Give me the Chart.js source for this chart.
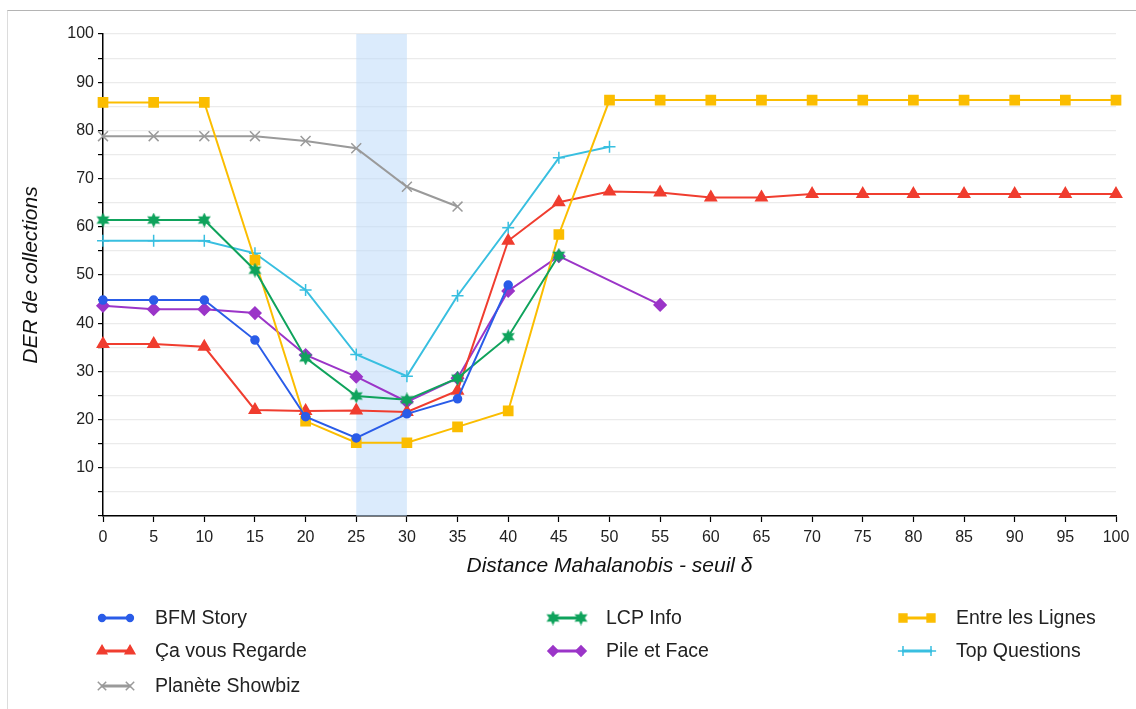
<!DOCTYPE html>
<html>
<head>
<meta charset="utf-8">
<script src="https://cdn.jsdelivr.net/npm/chart.js@4.4.0/dist/chart.umd.min.js"></script>
<style>
  html, body { margin: 0; padding: 0; background: #fff; }
  #wrap { position: relative; width: 1136px; height: 709px; overflow: hidden; }
  #frame { position: absolute; left: 7px; top: 10px; width: 1200px; height: 800px; border-top: 1px solid #b4b4b4; border-left: 1px solid #dcdcdc; }
  #chart { position: absolute; left: 0; top: 0; }
</style>
</head>
<body>
<div id="wrap">
  <div id="frame"></div>
  <canvas id="chart" width="1136" height="709"></canvas>
</div>
<script>
//****DATA****//

var thresholds = [0, 5, 10, 15, 20, 25, 30, 35, 40, 45, 50, 55, 60, 65, 70, 75, 80, 85, 90, 95, 100];

var bfmStory = [44.8, 44.8, 44.8, 36.5, 20.6, 16.2, 21.2, 24.3, 47.9];
var caVousRegarde = [35.7, 35.7, 35.1, 22.0, 21.8, 21.9, 21.6, 26.0, 57.1, 65.1, 67.3, 67.1, 66.1, 66.1, 66.8, 66.8, 66.8, 66.8, 66.8, 66.8, 66.8];
var planeteShowbiz = [78.8, 78.8, 78.8, 78.8, 77.8, 76.3, 68.3, 64.2];
var lcpInfo = [61.4, 61.4, 61.4, 51.0, 32.8, 24.9, 24.1, 28.6, 37.2, 54.1];
var pileEtFace = [43.6, 42.9, 42.9, 42.1, 33.4, 28.9, 23.7, 28.6, 46.7, 53.9, null, 43.8];
var entreLesLignes = [85.8, 85.8, 85.8, 53.1, 19.7, 15.2, 15.2, 18.5, 21.8, 58.4, 86.3, 86.3, 86.3, 86.3, 86.3, 86.3, 86.3, 86.3, 86.3, 86.3, 86.3];
var topQuestions = [57.1, 57.1, 57.1, 54.5, 46.9, 33.5, 29.0, 45.7, 59.8, 74.3, 76.6];

var bandFrom = 25;
var bandTo = 30;

//****HELPERS****//

var FONT = '"Liberation Sans", Arial, Helvetica, sans-serif';

// filled six point star, the built-in 'star' is only an asterisk
function makeStar(color, size) {
  var c = document.createElement('canvas');
  c.width = size;
  c.height = size;
  var g = c.getContext('2d');
  var R = size / 2, r = R * 0.52;
  g.beginPath();
  for (var i = 0; i < 12; i++) {
    var a = -Math.PI / 2 + i * Math.PI / 6;
    var rr = i % 2 ? r : R;
    g.lineTo(R + rr * Math.cos(a), R + rr * Math.sin(a));
  }
  g.closePath();
  g.fillStyle = color;
  g.fill();
  return c;
}

function series(label, data, color, style, radius) {
  return {
    label: label,
    data: data,
    borderColor: color,
    backgroundColor: color,
    pointStyle: style,
    pointRadius: radius,
    pointHoverRadius: radius,
    pointBorderWidth: 1.5,
    borderWidth: 2,
    tension: 0,
    spanGaps: true,
    clip: false
  };
}

//****PLUGINS****//

var bandPlugin = {
  id: 'band',
  beforeDatasetsDraw: function (chart) {
    var x = chart.scales.x, area = chart.chartArea, ctx = chart.ctx;
    var x1 = x.getPixelForValue(thresholds.indexOf(bandFrom));
    var x2 = x.getPixelForValue(thresholds.indexOf(bandTo));
    ctx.save();
    ctx.fillStyle = 'rgba(190, 218, 250, 0.55)';
    ctx.fillRect(x1, area.top, x2 - x1, area.bottom - area.top);
    ctx.restore();
  }
};

// legend laid out in 3 columns, row after row
var legendCols = [97, 548, 898];
var legendRows = [618, 651, 686];

var legendPlugin = {
  id: 'gridLegend',
  afterDraw: function (chart) {
    var ctx = chart.ctx;
    chart.data.datasets.forEach(function (ds, i) {
      var x0 = legendCols[i % 3];
      var y = legendRows[Math.floor(i / 3)];
      ctx.save();
      ctx.strokeStyle = ds.borderColor;
      ctx.fillStyle = ds.backgroundColor;
      ctx.lineWidth = 3;
      ctx.beginPath();
      ctx.moveTo(x0 + 4, y);
      ctx.lineTo(x0 + 34, y);
      ctx.stroke();
      [x0 + 5, x0 + 33].forEach(function (px) {
        ctx.lineWidth = 1.5;
        Chart.helpers.drawPoint(ctx, {
          pointStyle: ds.pointStyle,
          radius: ds.pointRadius * 0.85,
          borderWidth: 1.5,
          rotation: 0
        }, px, y);
      });
      ctx.fillStyle = '#222';
      ctx.font = '19.5px ' + FONT;
      ctx.textBaseline = 'middle';
      ctx.textAlign = 'left';
      ctx.fillText(ds.label, x0 + 58, y + 1);
      ctx.restore();
    });
  }
};

//****CHART****//

var ctx = document.getElementById('chart').getContext('2d');

var chart = new Chart(ctx, {
  type: 'line',
  data: {
    labels: thresholds,
    datasets: [
      series('BFM Story', bfmStory, '#2a5ce8', 'circle', 4),
      series('LCP Info', lcpInfo, '#0fa35c', makeStar('#0fa35c', 15), 6),
      series('Entre les Lignes', entreLesLignes, '#fbbd00', 'rect', 6.5),
      series('Ça vous Regarde', caVousRegarde, '#f03d2f', 'triangle', 6.5),
      series('Pile et Face', pileEtFace, '#9b35c8', 'rectRot', 6),
      series('Top Questions', topQuestions, '#38bfe0', 'cross', 6),
      series('Planète Showbiz', planeteShowbiz, '#9a9a9a', 'crossRot', 7)
    ]
  },
  options: {
    responsive: false,
    animation: false,
    layout: { padding: { top: 34, right: 20, bottom: 123, left: 0 } },
    plugins: {
      legend: { display: false },
      tooltip: { enabled: false }
    },
    scales: {
      x: {
        type: 'category',
        offset: false,
        grid: { drawOnChartArea: false, tickLength: 6, tickColor: '#000', tickWidth: 1.2 },
        border: { color: '#000', width: 1.5 },
        ticks: { color: '#222', font: { family: FONT, size: 16 }, padding: 6, maxRotation: 0, autoSkip: false },
        title: {
          display: true,
          text: 'Distance Mahalanobis - seuil δ',
          color: '#111',
          font: { family: FONT, size: 21, style: 'italic' },
          padding: { top: 7, bottom: 7 }
        },
        afterFit: function (s) { s.height = 70; }
      },
      y: {
        min: 0,
        max: 100,
        grid: { color: '#ebebeb', lineWidth: 1.2, tickColor: '#000', tickLength: 5, tickWidth: 1.2 },
        border: { color: '#000', width: 1.5 },
        ticks: {
          stepSize: 5,
          color: '#222',
          font: { family: FONT, size: 16 },
          padding: 4,
          callback: function (v) { return (v % 10 === 0 && v > 0) ? v : ''; }
        },
        title: {
          display: true,
          text: 'DER de collections',
          color: '#111',
          font: { family: FONT, size: 21, style: 'italic' },
          padding: { top: 19, bottom: 19 }
        },
        afterFit: function (s) { s.width = 103; }
      }
    }
  },
  plugins: [bandPlugin, legendPlugin]
});
</script>
</body>
</html>
